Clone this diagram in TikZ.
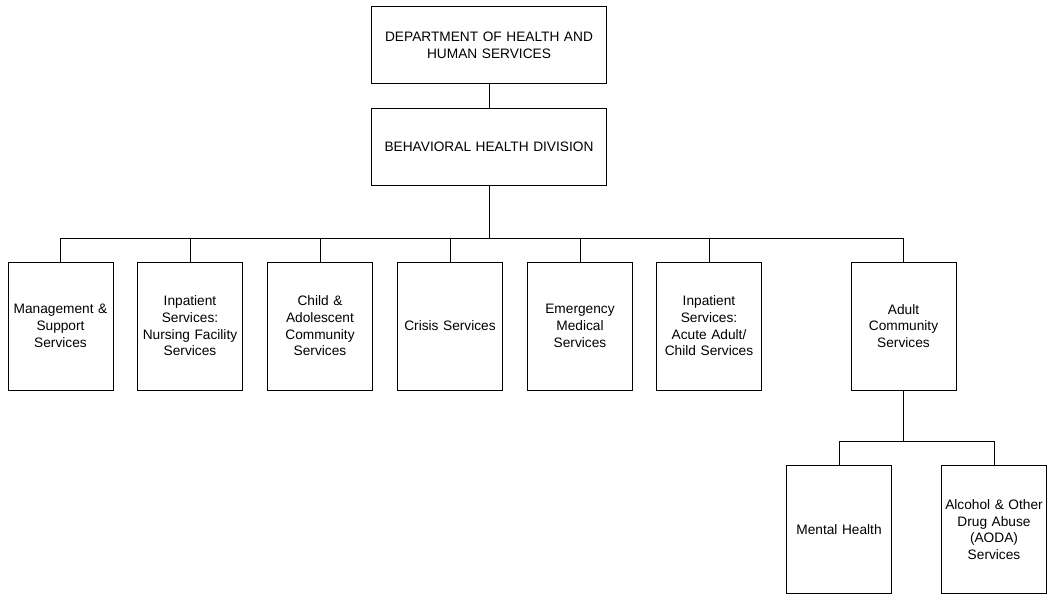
\documentclass[tikz,border=0pt]{standalone}
\usepackage{fontspec}
\setmainfont{Liberation Sans}
\begin{document}
\begin{tikzpicture}[x=1pt,y=1pt,
  box/.style={draw,line width=0.9pt,minimum width=105pt,minimum height=128pt,text width=103pt,align=center,inner sep=1pt,font=\fontsize{13.7}{16.7}\selectfont},
  wbox/.style={draw,line width=0.9pt,minimum width=235pt,minimum height=77pt,text width=230pt,align=center,inner sep=1pt,font=\fontsize{13.7}{16.7}\selectfont},
  conn/.style={line width=0.9pt}]
\useasboundingbox (0,0) rectangle (1047,-595);
\node[wbox] (dhhs) at (489,-45) {DEPARTMENT OF HEALTH AND\\HUMAN SERVICES};
\node[wbox] (bhd) at (489,-146.5) {BEHAVIORAL HEALTH DIVISION};
\node[box] (b1) at (60.5,-326) {Management \&\\Support\\Services};
\node[box] (b2) at (190,-326) {Inpatient\\Services:\\Nursing Facility\\Services};
\node[box] (b3) at (320,-326) {Child \&\\Adolescent\\Community\\Services};
\node[box] (b4) at (450,-326) {Crisis Services};
\node[box] (b5) at (580,-326) {Emergency\\Medical\\Services};
\node[box] (b6) at (709,-326) {Inpatient\\Services:\\Acute Adult/\\Child Services};
\node[box] (b7) at (903.5,-326) {Adult\\Community\\Services};
\node[box] (mh) at (839,-529.5) {Mental Health};
\node[box] (aoda) at (994,-529.5) {Alcohol \& Other\\Drug Abuse\\(AODA)\\Services};
\coordinate (bus) at (489,-238);
\coordinate (bus2) at (903.5,-441);
\draw[conn] (dhhs) -- (bhd);
\draw[conn] (bhd) -- (bus);
\foreach \n in {b1,b2,b3,b4,b5,b6,b7} \draw[conn] (bus) -| (\n);
\draw[conn] (b7) -- (bus2);
\draw[conn] (bus2) -| (mh);
\draw[conn] (bus2) -| (aoda);
\end{tikzpicture}
\end{document}
